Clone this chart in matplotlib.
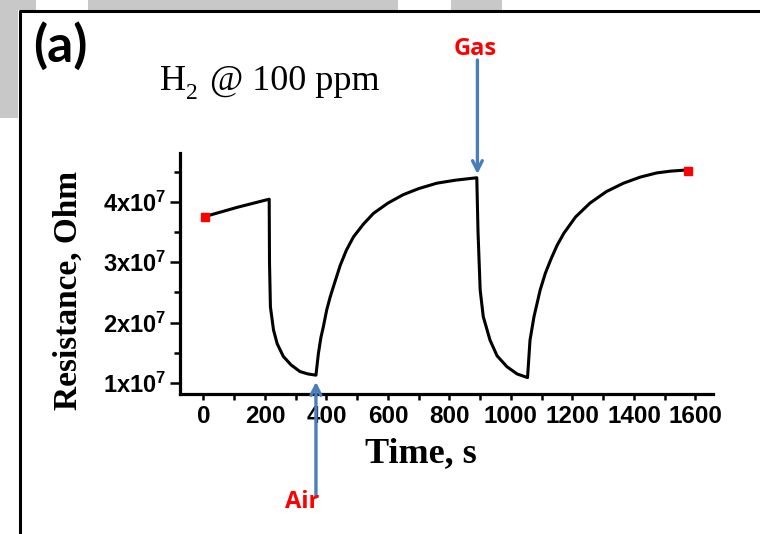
import matplotlib
matplotlib.use("Agg")
import matplotlib.pyplot as plt
from matplotlib.patches import Rectangle
from matplotlib.lines import Line2D
from matplotlib.ticker import MultipleLocator

plt.rcParams['mathtext.fontset'] = 'custom'
plt.rcParams['mathtext.rm'] = 'Liberation Serif'
plt.rcParams['mathtext.it'] = 'Liberation Serif:italic'
plt.rcParams['mathtext.bf'] = 'Liberation Sans:bold'

# =========================
# DATOS (resistencia en unidades de 1e7 Ohm)
# =========================
tiempo = [0, 110, 214, 215, 218, 228, 240, 260, 285, 314, 340, 366,
          374, 382, 390, 401, 412, 423, 445, 465, 488, 520, 553, 600, 650, 700, 759, 820, 889,
          893, 900, 910, 932, 955, 987, 1020, 1054,
          1058, 1062, 1075, 1095, 1112, 1130, 1150, 1172, 1210, 1257, 1310, 1366, 1420,
          1474, 1520, 1575]
resistencia = [3.75, 3.91, 4.045, 3.0, 2.26, 1.88, 1.65, 1.44, 1.30, 1.19, 1.15, 1.13,
               1.49, 1.75, 1.93, 2.21, 2.42, 2.60, 2.95, 3.20, 3.42, 3.63, 3.81, 3.98, 4.12,
               4.22, 4.31, 4.36, 4.40,
               3.50, 2.54, 2.10, 1.71, 1.45, 1.27, 1.15, 1.09,
               1.40, 1.71, 2.10, 2.54, 2.82, 3.05, 3.28, 3.48, 3.75, 3.98, 4.17, 4.31, 4.41,
               4.48, 4.51, 4.53]

marcas_t = [5, 1577]
marcas_r = [3.75, 4.52]

xticks = [0, 200, 400, 600, 800, 1000, 1200, 1400, 1600]
yticks = [1, 2, 3, 4]
ytick_labels = [r'$\mathbf{1x10^{7}}$', r'$\mathbf{2x10^{7}}$',
                r'$\mathbf{3x10^{7}}$', r'$\mathbf{4x10^{7}}$']

# flechas: (t, cola, punta)
flecha_gas = (891, 6.35, 4.46)
flecha_aire = (366, -0.89, 1.02)

AZUL = '#4a7ebb'
GRIS = '#c8c8c8'
W, H = 760, 534

def fx(px):
    return px / W

def fy(py):
    return 1 - py / H

fig = plt.figure(figsize=(7.6, 5.34), dpi=100)

# =========================
# FONDO GRIS Y MARCO
# =========================
for (x0, y0, w, h) in [(0, 0, 36, 10), (88, 0, 310, 10), (451, 0, 51, 10), (0, 0, 18, 118)]:
    fig.add_artist(Rectangle((fx(x0), fy(y0 + h)), fx(w), h / H,
                             transform=fig.transFigure, color=GRIS, lw=0, zorder=0))
fig.add_artist(Line2D([fx(19.5), fx(19.5), fx(770)], [fy(560), fy(11), fy(11)],
                      transform=fig.transFigure, color='black', lw=2.2, zorder=1))

# =========================
# GRAFICA
# =========================
ax = fig.add_axes([fx(180), fy(394), fx(713 - 180), (394 - 153) / H])
ax.set_facecolor('none')
ax.plot(tiempo, resistencia, color='black', lw=2.2, solid_joinstyle='round', zorder=3)
ax.plot(marcas_t, marcas_r, ls='none', marker='s', ms=6, color='red', zorder=4)

ax.set_xlim(-76, 1657)
ax.set_ylim(0.818, 4.81)

for s in ['top', 'right']:
    ax.spines[s].set_visible(False)
for s in ['left', 'bottom']:
    ax.spines[s].set_linewidth(2.3)

ax.set_xticks(xticks)
ax.xaxis.set_minor_locator(MultipleLocator(100))
ax.set_yticks(yticks)
ax.set_yticklabels(ytick_labels)
ax.yaxis.set_minor_locator(MultipleLocator(0.5))

ax.tick_params(axis='x', which='both', direction='out', length=4, width=1.8, pad=4)
ax.tick_params(axis='y', which='major', direction='out', length=7, width=1.8, pad=3)
ax.tick_params(axis='y', which='minor', direction='out', length=4.5, width=1.8)
for lbl in ax.get_xticklabels():
    lbl.set_fontfamily('Liberation Sans')
    lbl.set_fontweight('bold')
    lbl.set_fontsize(17.5)
for lbl in ax.get_yticklabels():
    lbl.set_fontsize(17)

ax.set_xlabel('Time, s', family='Liberation Serif', weight='bold', fontsize=26)
ax.xaxis.set_label_coords(0.452, -0.178)
ax.set_ylabel('Resistance, Ohm', family='Liberation Serif', weight='bold', fontsize=24)
ax.yaxis.set_label_coords(-0.18, 0.43)

# flechas
for (t, cola, punta) in [flecha_gas, flecha_aire]:
    ax.annotate('', xy=(t, punta), xytext=(t, cola), annotation_clip=False,
                arrowprops=dict(arrowstyle='->,head_length=0.7,head_width=0.35',
                                color=AZUL, lw=2.4, shrinkA=0, shrinkB=0))

# =========================
# TEXTOS
# =========================
fig.text(fx(33), fy(62), '(a)', family='Lato', weight='bold', fontsize=37, va='baseline')
fig.text(fx(160), fy(90), 'H', family='Liberation Serif', fontsize=26, va='baseline')
fig.text(fx(186), fy(99), '2', family='Liberation Serif', fontsize=17, va='baseline')
fig.text(fx(210), fy(90), '@ 100 ppm', family='Liberation Serif', fontsize=26, va='baseline')
fig.text(fx(475), fy(49), 'Gas', family='Open Sans', weight='bold', fontsize=17,
         color='red', ha='center', va='center')
fig.text(fx(302), fy(502), 'Air', family='Open Sans', weight='bold', fontsize=17,
         color='red', ha='center', va='center')

fig.savefig('out.png', dpi=100)
